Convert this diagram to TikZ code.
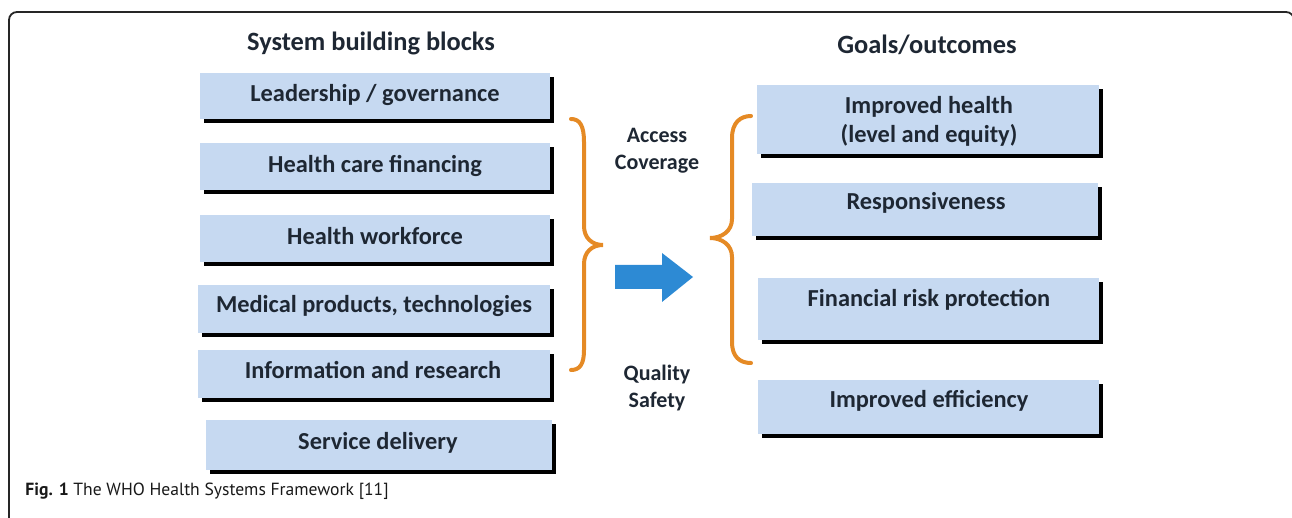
\documentclass[tikz,border=0pt]{standalone}
\usepackage{fontspec}
\setmainfont{Carlito}
\newfontfamily\capfont{PT Sans}
\usetikzlibrary{shadows}
\definecolor{boxfill}{HTML}{C6D9F1}
\definecolor{txtcol}{HTML}{1E2733}
\definecolor{bracecol}{HTML}{E58A25}
\definecolor{arrowcol}{HTML}{2D8AD4}
\tikzset{
  bx/.style={draw=none, fill=boxfill, inner sep=0pt,
    drop shadow={shadow xshift=2pt, shadow yshift=-2pt, fill=black, opacity=1}},
  lbl/.style={text=txtcol, font=\bfseries\fontsize{12.2}{14.5}\selectfont, align=center, inner sep=0pt},
  ttl/.style={text=txtcol, font=\bfseries\fontsize{13.2}{15}\selectfont, inner sep=0pt},
  side/.style={text=txtcol, font=\bfseries\fontsize{11}{13.5}\selectfont, align=center, inner sep=0pt},
  brc/.style={draw=bracecol, line width=2pt, line cap=round},
}
\newcommand{\mybox}[5]{\node[bx, minimum width=(#4-#2)*0.5pt, minimum height=(#5-#3)*0.5pt] (#1) at ({(#2+#4)/2},{(#3+#5)/2}) {};}
\begin{document}
\begin{tikzpicture}[x=0.5pt, y=-0.5pt]
\useasboundingbox (0,0) rectangle (1292,518);
% frame
\draw[line width=0.9pt, rounded corners=4pt, draw=black!85] (9,530) -- (9,12) -- (1294,12) -- (1294,530);
% titles
\node[ttl] (tl) at (371,43) {System building blocks};
\node[ttl] (tr) at (927,45) {Goals/outcomes};
% left boxes
\mybox{l1}{200}{73}{550}{119}
\mybox{l2}{200}{143}{550}{190}
\mybox{l3}{200}{215}{550}{262}
\mybox{l4}{198}{285}{550}{333}
\mybox{l5}{198}{350}{550}{398}
\mybox{l6}{206}{420}{552}{470}
\node[lbl] (tl1) at (375,95) {Leadership / governance};
\node[lbl] (tl2) at (375,166) {Health care financing};
\node[lbl] (tl3) at (375,236) {Health workforce};
\node[lbl] (tl4) at (374,306) {Medical products, technologies};
\node[lbl] (tl5) at (373,370) {Information and research};
\node[lbl] (tl6) at (378,443) {Service delivery};
% right boxes
\mybox{r1}{757}{85}{1099}{154}
\mybox{r2}{752}{183}{1098}{236}
\mybox{r3}{758}{278}{1099}{340}
\mybox{r4}{758}{380}{1099}{434}
\node[lbl] (tr1) at (929,121) {Improved health\\(level and equity)};
\node[lbl] (tr2) at (926,203) {Responsiveness};
\node[lbl] (tr3) at (929,300) {Financial risk protection};
\node[lbl] (tr4) at (929,401) {Improved efficiency};
% side texts
\node[side] (acc) at (657,151) {Access\\Coverage};
\node[side] (qual) at (657,388) {Quality\\Safety};
% braces
\draw[brc] (571,119) .. controls (580,119) and (584,126) .. (584,142) -- (584,226)
  .. controls (584,238) and (592,245) .. (603,245)
  .. controls (592,245) and (584,252) .. (584,264) -- (584,350)
  .. controls (584,364) and (580,370) .. (571,370);
\draw[brc] (751,116) .. controls (740,116) and (732,123) .. (732,138) -- (732,219)
  .. controls (732,231) and (722,238) .. (710,238)
  .. controls (722,238) and (732,245) .. (732,257) -- (732,342)
  .. controls (732,357) and (740,363) .. (751,363);
% arrow
\fill[arrowcol] (615,265) -- (662,265) -- (662,253) -- (693,277) -- (662,302) -- (662,289) -- (615,289) -- cycle;
% caption
\node[anchor=base west, inner sep=0pt, font=\capfont\fontsize{8.8}{11}\selectfont, text=black!90] (cap) at (25,495) {\textbf{Fig. 1} The WHO Health Systems Framework [11]};
\end{tikzpicture}
\end{document}
